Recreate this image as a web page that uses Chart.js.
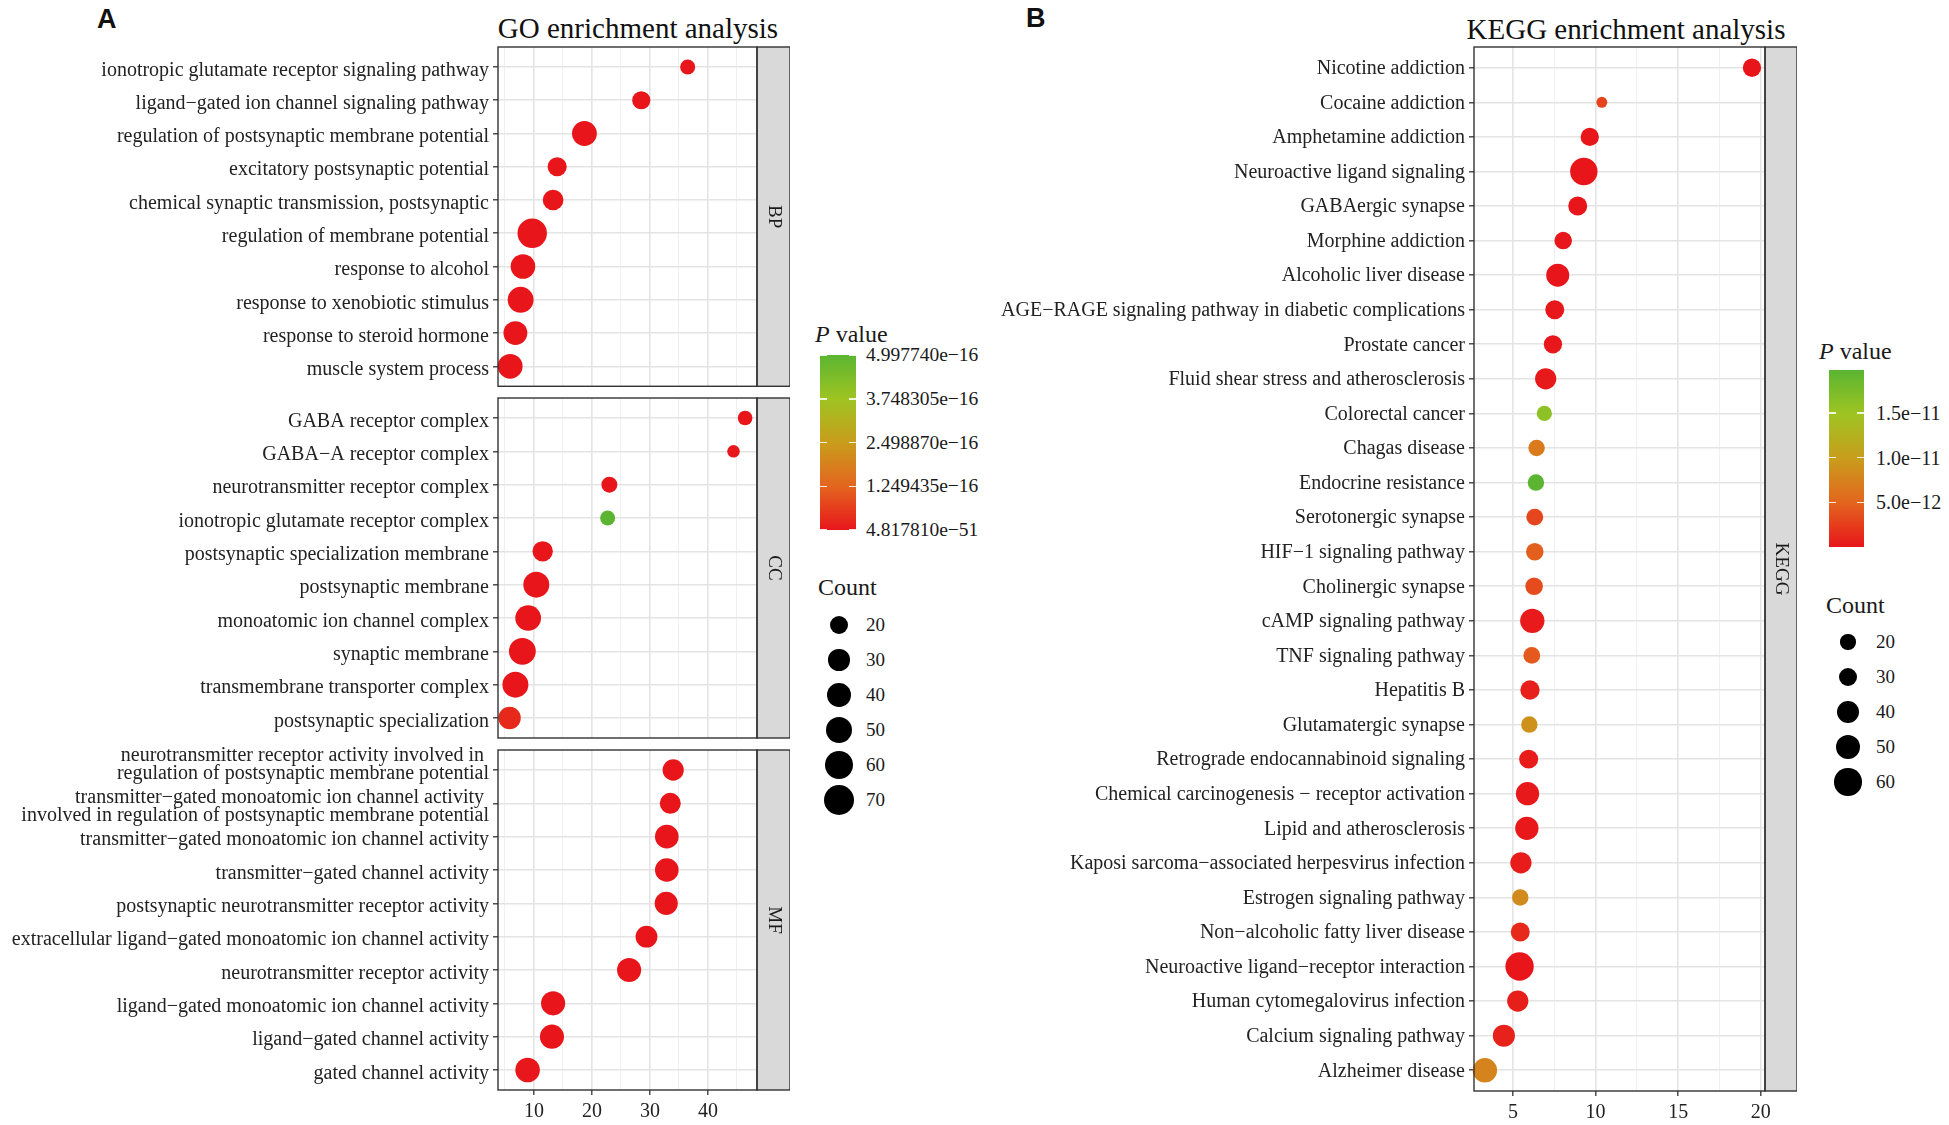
<!DOCTYPE html>
<html>
<head>
<meta charset="utf-8">
<script src="https://cdn.jsdelivr.net/npm/chart.js@4.4.1/dist/chart.umd.min.js"></script>
<style>
  body { margin: 0; background: #fff; }
  #page { position: relative; width: 1949px; height: 1125px; overflow: hidden; font-family: 'Liberation Serif', serif; color: #1a1a1a; }
  #page canvas { position: absolute; }
  .txt { position: absolute; white-space: nowrap; transform: translateY(-50%); }
  .panel-tag { position: absolute; font-family: 'Liberation Sans', Arial, sans-serif; font-weight: bold; font-size: 27px; color: #111; }
  .title { position: absolute; font-size: 29px; transform: translate(-50%, -50%); white-space: nowrap; color: #111; }
  .bar { position: absolute; }
  .bar-tick { position: absolute; height: 1.5px; width: 7px; background: rgba(255,255,255,0.85); }
  .dot { position: absolute; background: #000; border-radius: 50%; }
</style>
</head>
<body>
<div id="page">
  <div class="panel-tag" style="left:97px;top:4px">A</div>
  <div class="panel-tag" style="left:1026px;top:3px">B</div>
  <div class="title" style="left:638px;top:28px">GO enrichment analysis</div>
  <div class="title" style="left:1626px;top:29px">KEGG enrichment analysis</div>

  <canvas id="goBP" width="790" height="376" style="left:0;top:25px"></canvas>
  <canvas id="goCC" width="790" height="376" style="left:0;top:376px"></canvas>
  <canvas id="goMF" width="790" height="402" style="left:0;top:728px"></canvas>
  <canvas id="kegg" width="797" height="1106" style="left:1000px;top:25px"></canvas>

  <div id="goLegend"></div>
  <div id="keggLegend"></div>
</div>

<script>
// ---- GO: biological process ----
const goBPTerms = [
  'ionotropic glutamate receptor signaling pathway',
  'ligand\u2212gated ion channel signaling pathway',
  'regulation of postsynaptic membrane potential',
  'excitatory postsynaptic potential',
  'chemical synaptic transmission, postsynaptic',
  'regulation of membrane potential',
  'response to alcohol',
  'response to xenobiotic stimulus',
  'response to steroid hormone',
  'muscle system process'
];
const goBPValues = [36.5, 28.5, 18.7, 14.0, 13.3, 9.7, 8.1, 7.7, 6.8, 5.9];
const goBPCounts = [12, 20, 44, 23, 28, 66, 43, 49, 40, 44];
const goBPPvalues = [2.1e-22, 5.6e-20, 3.4e-31, 8.7e-21, 1.2e-21, 4.817810e-51, 6.5e-24, 2.3e-26, 1.8e-22, 7.1e-25];

// ---- GO: cellular component ----
const goCCTerms = [
  'GABA receptor complex',
  'GABA\u2212A receptor complex',
  'neurotransmitter receptor complex',
  'ionotropic glutamate receptor complex',
  'postsynaptic specialization membrane',
  'postsynaptic membrane',
  'monoatomic ion channel complex',
  'synaptic membrane',
  'transmembrane transporter complex',
  'postsynaptic specialization'
];
const goCCValues = [46.4, 44.4, 23.0, 22.7, 11.5, 10.4, 9.0, 8.0, 6.8, 5.8];
const goCCCounts = [11, 7, 14, 12, 27, 49, 48, 53, 49, 34];
const goCCPvalues = [3.5e-20, 1.2e-18, 6.2e-19, 4.997740e-16, 2.7e-24, 5.3e-38, 9.4e-33, 1.6e-36, 4.1e-30, 3.0e-17];

// ---- GO: molecular function (long names wrapped as in the figure) ----
const goMFTerms = [
  'neurotransmitter receptor activity involved in \nregulation of postsynaptic membrane potential\n',
  'transmitter\u2212gated monoatomic ion channel activity \ninvolved in regulation of postsynaptic membrane potential',
  'transmitter\u2212gated monoatomic ion channel activity',
  'transmitter\u2212gated channel activity',
  'postsynaptic neurotransmitter receptor activity',
  'extracellular ligand\u2212gated monoatomic ion channel activity',
  'neurotransmitter receptor activity',
  'ligand\u2212gated monoatomic ion channel activity',
  'ligand\u2212gated channel activity',
  'gated channel activity'
];
const goMFValues = [34.0, 33.5, 32.9, 32.9, 32.8, 29.4, 26.4, 13.3, 13.1, 8.9];
const goMFCounts = [30, 29, 39, 39, 37, 32, 41, 41, 41, 43];
const goMFPvalues = [1.1e-33, 2.6e-33, 5.0e-42, 5.0e-42, 3.1e-41, 7.4e-37, 8.8e-44, 1.5e-19, 1.9e-19, 2.2e-18];

// ---- KEGG ----
const keggTerms = [
  'Nicotine addiction', 'Cocaine addiction', 'Amphetamine addiction', 'Neuroactive ligand signaling',
  'GABAergic synapse', 'Morphine addiction', 'Alcoholic liver disease',
  'AGE\u2212RAGE signaling pathway in diabetic complications', 'Prostate cancer',
  'Fluid shear stress and atherosclerosis', 'Colorectal cancer', 'Chagas disease',
  'Endocrine resistance', 'Serotonergic synapse', 'HIF\u22121 signaling pathway', 'Cholinergic synapse',
  'cAMP signaling pathway', 'TNF signaling pathway', 'Hepatitis B', 'Glutamatergic synapse',
  'Retrograde endocannabinoid signaling', 'Chemical carcinogenesis \u2212 receptor activation',
  'Lipid and atherosclerosis', 'Kaposi sarcoma\u2212associated herpesvirus infection',
  'Estrogen signaling pathway', 'Non\u2212alcoholic fatty liver disease',
  'Neuroactive ligand\u2212receptor interaction', 'Human cytomegalovirus infection',
  'Calcium signaling pathway', 'Alzheimer disease'
];
const keggValues = [19.47, 10.38, 9.65, 9.29, 8.92, 8.04, 7.71, 7.53, 7.42, 6.98,
  6.90, 6.43, 6.39, 6.32, 6.32, 6.28, 6.17, 6.14, 6.03, 5.99,
  5.95, 5.88, 5.84, 5.48, 5.44, 5.44, 5.40, 5.29, 4.45, 3.30];
const keggCounts = [28, 11, 28, 60, 30, 26, 43, 30, 28, 37,
  20, 23, 23, 24, 26, 26, 48, 24, 31, 23,
  30, 44, 44, 37, 23, 30, 64, 37, 40, 48];
const keggPvalues = [3.2e-16, 2.8e-12, 2.5e-14, 1.1e-20, 4.6e-15, 7.3e-14, 5.2e-15, 3.8e-14, 9.1e-14, 1.7e-13,
  1.6e-11, 6.9e-12, 1.98e-11, 3.0e-12, 4.6e-12, 3.3e-12, 2.4e-13, 4.2e-12, 6.5e-13, 8.9e-12,
  3.5e-13, 2.1e-13, 1.5e-13, 4.0e-13, 8.3e-12, 1.2e-12, 4.5e-19, 5.9e-13, 7.5e-13, 7.7e-12];

// axis ranges and tick labels
const goXRange = [3.8, 48.45];
const goXGrid = [5, 10, 15, 20, 25, 30, 35, 40, 45];
const keggXRange = [2.64, 20.26];
const keggXGrid = [5, 7.5, 10, 12.5, 15, 17.5, 20];

const goBarBreaks = [4.997740e-16, 3.748305e-16, 2.498870e-16, 1.249435e-16, 4.817810e-51];
const goBarLabels = ['4.997740e\u221216', '3.748305e\u221216', '2.498870e\u221216', '1.249435e\u221216', '4.817810e\u221251'];
const keggBarBreaks = [1.5e-11, 1.0e-11, 5.0e-12];
const keggBarLabels = ['1.5e\u221211', '1.0e\u221211', '5.0e\u221212'];
const goCountBreaks = [20, 30, 40, 50, 60, 70];
const keggCountBreaks = [20, 30, 40, 50, 60];

// low p -> red, high p -> green
const GRADIENT = [[0, '#e8161b'], [0.25, '#e3651e'], [0.5, '#c99d1c'], [0.75, '#9ec421'], [1, '#5bb532']];
const SERIF = "'Liberation Serif', 'Times New Roman', serif";

function hexRgb(h) {
  return [1, 3, 5].map(i => parseInt(h.slice(i, i + 2), 16));
}

function gradientColor(t) {
  t = Math.max(0, Math.min(1, t));
  for (let i = 1; i < GRADIENT.length; i++) {
    const [t1, c1] = GRADIENT[i];
    const [t0, c0] = GRADIENT[i - 1];
    if (t <= t1) {
      const f = (t - t0) / (t1 - t0);
      const a = hexRgb(c0), b = hexRgb(c1);
      return 'rgb(' + a.map((v, k) => Math.round(v + (b[k] - v) * f)).join(',') + ')';
    }
  }
  return GRADIENT[GRADIENT.length - 1][1];
}

const cssGradient = 'linear-gradient(to top, ' + GRADIENT.map(([t, c]) => c + ' ' + (t * 100) + '%').join(', ') + ')';

const goAllP = goBPPvalues.concat(goCCPvalues, goMFPvalues);
const goPLimits = [Math.min(...goAllP), Math.max(...goAllP)];
const keggPLimits = [Math.min(...keggPvalues), Math.max(...keggPvalues)];

const goRadius = c => 2.2 + 1.54 * Math.sqrt(c);
const keggRadius = c => -0.7 + 1.86 * Math.sqrt(c);

// panel border + facet strip on the right
const panelFrame = {
  id: 'panelFrame',
  afterDraw(chart, args, opts) {
    const { ctx, chartArea: a } = chart;
    const h = a.bottom - a.top;
    ctx.save();
    ctx.fillStyle = '#d9d9d9';
    ctx.fillRect(a.right, a.top, opts.stripWidth, h);
    ctx.strokeStyle = '#333333';
    ctx.lineWidth = 1.4;
    ctx.strokeRect(a.right, a.top, opts.stripWidth, h);
    ctx.strokeRect(a.left, a.top, a.right - a.left, h);
    ctx.translate(a.right + opts.stripWidth / 2, a.top + h / 2);
    ctx.rotate(Math.PI / 2);
    ctx.font = '19px ' + SERIF;
    ctx.fillStyle = '#1a1a1a';
    ctx.textAlign = 'center';
    ctx.textBaseline = 'middle';
    ctx.fillText(opts.label, 0, 0);
    ctx.restore();
  }
};

function dotChart(id, o) {
  const rows = o.terms.map((t, i) => ({ x: o.values[i], y: i, count: o.counts[i], p: o.pvals[i] }));
  const isMajor = c => c.tick && Math.abs(c.tick.value % o.xMajor) < 1e-9;
  return new Chart(document.getElementById(id), {
    type: 'scatter',
    data: {
      datasets: [{
        data: rows,
        pointRadius: c => o.radius(c.raw.count),
        pointBackgroundColor: c => gradientColor((c.raw.p - o.pLimits[0]) / (o.pLimits[1] - o.pLimits[0])),
        pointBorderWidth: 0,
        clip: false
      }]
    },
    options: {
      responsive: false,
      animation: false,
      events: [],
      layout: { padding: { top: 22, bottom: o.showX ? 4 : 14, left: 0, right: o.stripWidth } },
      plugins: {
        legend: { display: false },
        tooltip: { enabled: false },
        panelFrame: { label: o.strip, stripWidth: o.stripWidth }
      },
      scales: {
        x: {
          type: 'linear',
          min: o.xRange[0],
          max: o.xRange[1],
          afterBuildTicks: s => { s.ticks = o.xGrid.map(v => ({ value: v })); },
          afterFit: s => { s.height = o.showX ? 36 : 0; },
          border: { display: false },
          grid: {
            color: c => isMajor(c) ? '#e4e4e4' : '#eeeeee',
            lineWidth: c => isMajor(c) ? 1.6 : 0.9,
            drawTicks: o.showX,
            tickLength: 5,
            tickWidth: 1.3,
            tickColor: c => isMajor(c) ? '#333333' : 'rgba(0,0,0,0)'
          },
          ticks: {
            display: o.showX,
            autoSkip: false,
            maxRotation: 0,
            padding: 5,
            color: '#222',
            font: { family: SERIF, size: 20 },
            callback: v => Math.abs(v % o.xMajor) < 1e-9 ? String(v) : ''
          }
        },
        y: {
          type: 'linear',
          reverse: true,
          min: -0.6,
          max: o.terms.length - 0.4,
          afterBuildTicks: s => { s.ticks = o.terms.map((t, i) => ({ value: i })); },
          afterFit: s => { s.width = o.yWidth; },
          border: { display: false },
          grid: {
            color: '#e4e4e4',
            lineWidth: 1.6,
            tickLength: 5,
            tickWidth: 1.3,
            tickColor: '#333333'
          },
          ticks: {
            autoSkip: false,
            padding: 4,
            labelOffset: o.labelShift,
            color: '#222',
            font: { family: SERIF, size: 20, lineHeight: 0.9 },
            callback: v => {
              const t = o.terms[v];
              return t && t.includes('\n') ? t.split('\n') : t;
            }
          }
        }
      }
    },
    plugins: [panelFrame]
  });
}

const goCommon = {
  xRange: goXRange, xGrid: goXGrid, xMajor: 10, yWidth: 498, stripWidth: 33, labelShift: 3.5,
  radius: goRadius, pLimits: goPLimits
};

dotChart('goBP', Object.assign({}, goCommon, {
  terms: goBPTerms, values: goBPValues, counts: goBPCounts, pvals: goBPPvalues, strip: 'BP', showX: false
}));
dotChart('goCC', Object.assign({}, goCommon, {
  terms: goCCTerms, values: goCCValues, counts: goCCCounts, pvals: goCCPvalues, strip: 'CC', showX: false
}));
dotChart('goMF', Object.assign({}, goCommon, {
  terms: goMFTerms, values: goMFValues, counts: goMFCounts, pvals: goMFPvalues, strip: 'MF', showX: true
}));
dotChart('kegg', {
  terms: keggTerms, values: keggValues, counts: keggCounts, pvals: keggPvalues, strip: 'KEGG', showX: true,
  xRange: keggXRange, xGrid: keggXGrid, xMajor: 5, yWidth: 474, stripWidth: 32, labelShift: 1,
  radius: keggRadius, pLimits: keggPLimits
});

// ---- legends (colour bar + size key) ----
function addText(parent, html, x, y, size) {
  const d = document.createElement('div');
  d.className = 'txt';
  d.style.left = x + 'px';
  d.style.top = y + 'px';
  d.style.fontSize = size + 'px';
  d.innerHTML = html;
  parent.appendChild(d);
}

function buildLegend(el, L) {
  addText(el, '<i>P</i> value', L.titleX, L.pTitleY, 24);
  const bar = document.createElement('div');
  bar.className = 'bar';
  Object.assign(bar.style, {
    left: L.barX + 'px', top: L.barTop + 'px', width: L.barW + 'px',
    height: L.barH + 'px', background: cssGradient
  });
  el.appendChild(bar);
  L.breaks.forEach((v, i) => {
    const y = L.barTop + L.barH - (v - L.limits[0]) / (L.limits[1] - L.limits[0]) * L.barH;
    [L.barX, L.barX + L.barW - 7].forEach(x => {
      const tk = document.createElement('div');
      tk.className = 'bar-tick';
      tk.style.left = x + 'px';
      tk.style.top = (y - 0.75) + 'px';
      el.appendChild(tk);
    });
    addText(el, L.labels[i], L.labelX, y, L.labelSize);
  });
  addText(el, 'Count', L.countX, L.countTitleY, 24);
  L.counts.forEach((c, i) => {
    const r = L.radius(c);
    const y = L.countTop + i * L.countStep;
    const dot = document.createElement('div');
    dot.className = 'dot';
    Object.assign(dot.style, {
      left: (L.dotX - r) + 'px', top: (y - r) + 'px', width: 2 * r + 'px', height: 2 * r + 'px'
    });
    el.appendChild(dot);
    addText(el, String(c), L.labelX, y, 19);
  });
}

buildLegend(document.getElementById('goLegend'), {
  titleX: 815, pTitleY: 334, barX: 820, barTop: 355, barW: 36, barH: 175,
  breaks: goBarBreaks, labels: goBarLabels, limits: goPLimits, labelX: 866, labelSize: 19.5,
  countX: 818, countTitleY: 587, counts: goCountBreaks, radius: goRadius,
  dotX: 839, countTop: 625, countStep: 35
});

buildLegend(document.getElementById('keggLegend'), {
  titleX: 1819, pTitleY: 351, barX: 1829, barTop: 370, barW: 35, barH: 177,
  breaks: keggBarBreaks, labels: keggBarLabels, limits: keggPLimits, labelX: 1876, labelSize: 20,
  countX: 1826, countTitleY: 605, counts: keggCountBreaks, radius: keggRadius,
  dotX: 1848, countTop: 642, countStep: 35
});
</script>
</body>
</html>
